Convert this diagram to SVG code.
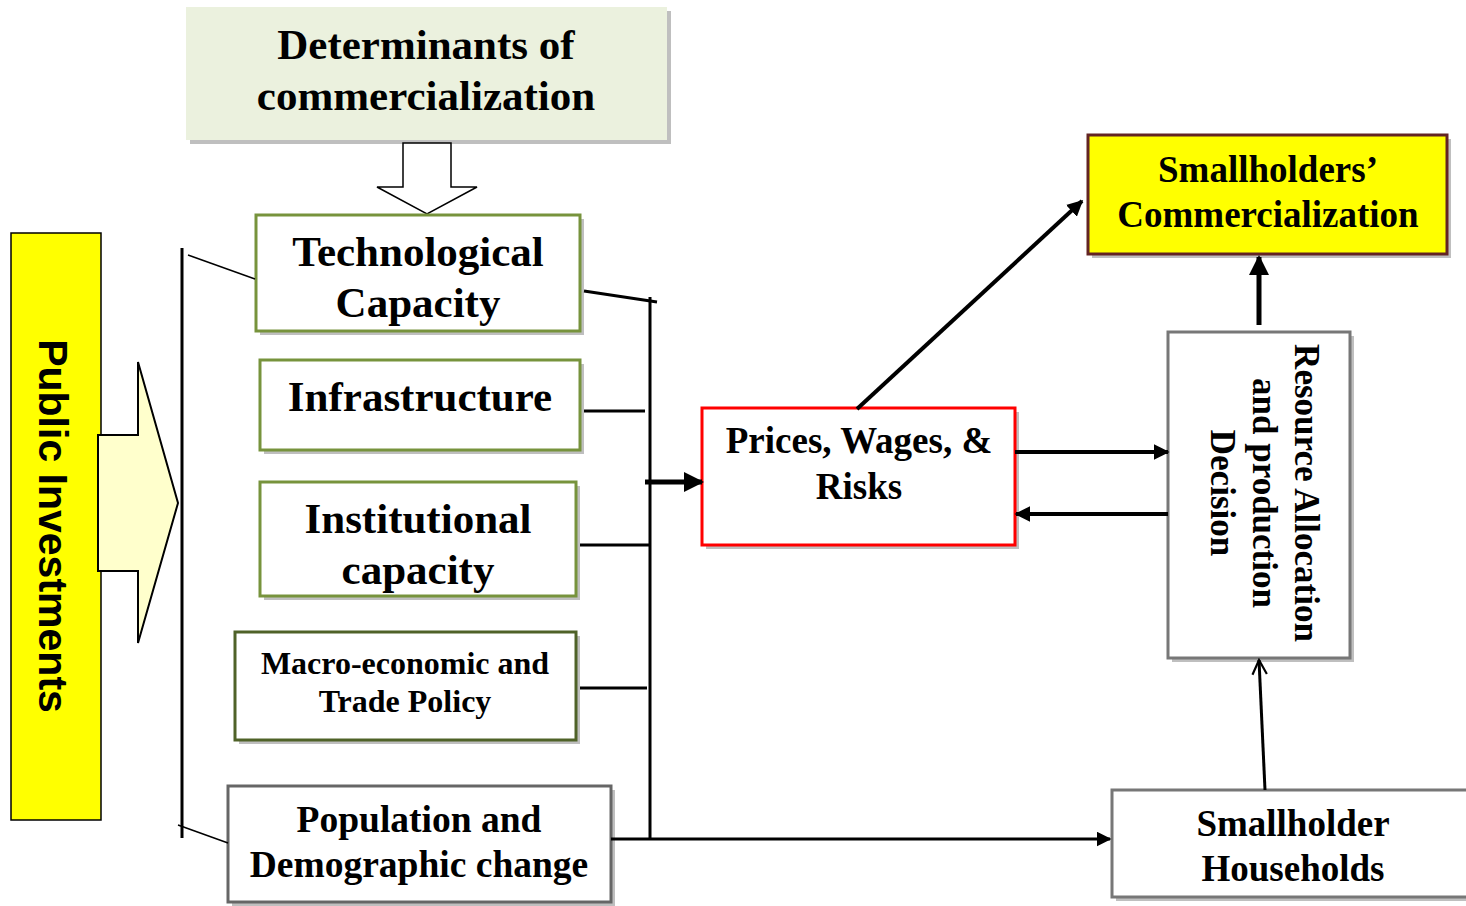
<svg xmlns="http://www.w3.org/2000/svg" width="1466" height="906" viewBox="0 0 1466 906">
<style>
.t{font-family:"Liberation Serif","Times New Roman",serif;font-weight:bold;fill:#000;text-anchor:middle}
.sh{fill:#BFBFBF}
.c{stroke:#000;fill:none}
</style>
<defs>
<marker id="ah" viewBox="0 0 10 10" refX="9" refY="5" markerWidth="4" markerHeight="4" orient="auto" markerUnits="strokeWidth">
<path d="M0,0 L10,5 L0,10 Z" fill="#000"/>
</marker>
<marker id="ahs" viewBox="0 0 10 10" refX="9" refY="5" markerWidth="5" markerHeight="5" orient="auto" markerUnits="strokeWidth">
<path d="M0,0 L10,5 L0,10 Z" fill="#000"/>
</marker>
<marker id="ao" viewBox="0 0 10 10" refX="9" refY="5" markerWidth="6" markerHeight="6" orient="auto" markerUnits="strokeWidth">
<path d="M1,1 L9,5 L1,9" fill="none" stroke="#000" stroke-width="1.2"/>
</marker>
</defs>
<rect width="1466" height="906" fill="#fff"/>

<g id="public-investments">
<rect x="11" y="233" width="90" height="587" fill="#FFFF00" stroke="#000" stroke-width="1.5"/>
<text transform="translate(39,526) rotate(90)" style="font-family:'Liberation Sans',Arial,sans-serif;font-weight:bold;font-size:41px;text-anchor:middle">Public Investments</text>
<path d="M98,435 L138,435 L138,362 L178,503 L138,643 L138,571 L98,571 Z" fill="#FFFFCC" stroke="#000" stroke-width="2"/>
</g>

<g id="determinants">
<rect class="sh" x="190" y="11" width="481" height="133"/>
<rect x="186" y="7" width="481" height="133" fill="#EBF1DE"/>
<text class="t" x="426" y="59" font-size="43">Determinants of</text>
<text class="t" x="426" y="110" font-size="43">commercialization</text>
<path d="M403,143 L451,143 L451,187 L477,187 L427,214 L377,187 L403,187 Z" fill="#fff" stroke="#000" stroke-width="1.5"/>
</g>

<g id="technological">
<rect class="sh" x="260" y="219" width="324" height="116"/>
<rect x="256" y="215" width="324" height="116" fill="#fff" stroke="#77933C" stroke-width="3"/>
<text class="t" x="418" y="266" font-size="43">Technological</text>
<text class="t" x="418" y="317" font-size="43">Capacity</text>
</g>

<g id="infrastructure">
<rect class="sh" x="264" y="364" width="320" height="90"/>
<rect x="260" y="360" width="320" height="90" fill="#fff" stroke="#77933C" stroke-width="3"/>
<text class="t" x="420" y="411" font-size="43">Infrastructure</text>
</g>

<g id="institutional">
<rect class="sh" x="264" y="486" width="316" height="114"/>
<rect x="260" y="482" width="316" height="114" fill="#fff" stroke="#77933C" stroke-width="3"/>
<text class="t" x="418" y="533" font-size="43">Institutional</text>
<text class="t" x="418" y="584" font-size="43">capacity</text>
</g>

<g id="macro">
<rect class="sh" x="239" y="636" width="341" height="108"/>
<rect x="235" y="632" width="341" height="108" fill="#fff" stroke="#4F6228" stroke-width="3"/>
<text class="t" x="405" y="674" font-size="32">Macro-economic and</text>
<text class="t" x="405" y="712" font-size="32">Trade Policy</text>
</g>

<g id="population">
<rect class="sh" x="232" y="790" width="383" height="116"/>
<rect x="228" y="786" width="383" height="116" fill="#fff" stroke="#666" stroke-width="3"/>
<text class="t" x="419" y="832" font-size="37.5">Population and</text>
<text class="t" x="419" y="877" font-size="37.5">Demographic change</text>
</g>

<g id="prices">
<rect class="sh" x="706" y="412" width="313" height="137"/>
<rect x="702" y="408" width="313" height="137" fill="#fff" stroke="#FF0000" stroke-width="3"/>
<text class="t" x="859" y="453" font-size="37">Prices, Wages, &amp;</text>
<text class="t" x="859" y="499" font-size="37">Risks</text>
</g>

<g id="commercialization">
<rect class="sh" x="1092" y="139" width="359" height="119"/>
<rect x="1088" y="135" width="359" height="119" fill="#FFFF00" stroke="#632423" stroke-width="3"/>
<text class="t" x="1268" y="182" font-size="37">Smallholders’</text>
<text class="t" x="1268" y="227" font-size="37">Commercialization</text>
</g>

<g id="resource">
<rect class="sh" x="1172" y="336" width="182" height="326"/>
<rect x="1168" y="332" width="182" height="326" fill="#fff" stroke="#777" stroke-width="3"/>
<text class="t" font-size="35" transform="translate(1295,493) rotate(90)">Resource Allocation</text>
<text class="t" font-size="35" transform="translate(1253,493) rotate(90)">and production</text>
<text class="t" font-size="35" transform="translate(1211,493) rotate(90)">Decision</text>
</g>

<g id="households">
<rect class="sh" x="1116" y="794" width="360" height="107"/>
<rect x="1112" y="790" width="360" height="107" fill="#fff" stroke="#777" stroke-width="3"/>
<text class="t" x="1293" y="836" font-size="37">Smallholder</text>
<text class="t" x="1293" y="881" font-size="37">Households</text>
</g>

<g id="connectors">
<line class="c" x1="182" y1="248" x2="182" y2="838" stroke-width="3"/>
<line class="c" x1="188" y1="255" x2="255" y2="279" stroke-width="1.5"/>
<line class="c" x1="178" y1="825" x2="228" y2="843" stroke-width="1.5"/>
<line class="c" x1="650" y1="297" x2="650" y2="839" stroke-width="3"/>
<line class="c" x1="584" y1="291" x2="657" y2="302" stroke-width="3"/>
<line class="c" x1="584" y1="411" x2="645" y2="411" stroke-width="3"/>
<line class="c" x1="580" y1="545" x2="650" y2="545" stroke-width="3"/>
<line class="c" x1="580" y1="688" x2="647" y2="688" stroke-width="3"/>
<line class="c" x1="611" y1="839" x2="1110" y2="839" stroke-width="3" marker-end="url(#ahs)"/>
<line class="c" x1="645" y1="482" x2="702" y2="482" stroke-width="5" marker-end="url(#ah)"/>
<line class="c" x1="857" y1="409" x2="1082" y2="201" stroke-width="4" marker-end="url(#ah)"/>
<line class="c" x1="1015" y1="452" x2="1168" y2="452" stroke-width="4" marker-end="url(#ah)"/>
<line class="c" x1="1168" y1="514" x2="1016" y2="514" stroke-width="4" marker-end="url(#ah)"/>
<line class="c" x1="1259" y1="325" x2="1259" y2="257" stroke-width="5" marker-end="url(#ah)"/>
<line class="c" x1="1265" y1="790" x2="1259" y2="660" stroke-width="3" marker-end="url(#ao)"/>
</g>
</svg>
